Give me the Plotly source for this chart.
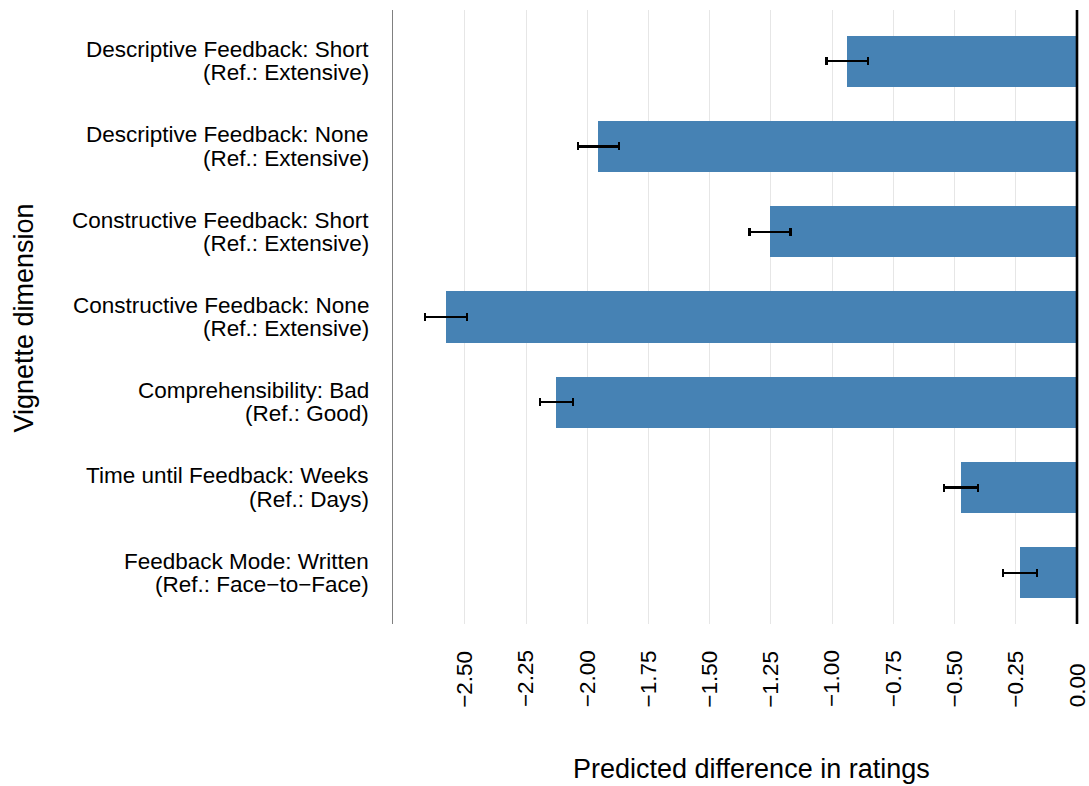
import plotly.graph_objects as go

# Vignette dimensions (contrast level) and their reference categories
dimensions = [
    "Descriptive Feedback: Short",
    "Descriptive Feedback: None",
    "Constructive Feedback: Short",
    "Constructive Feedback: None",
    "Comprehensibility: Bad",
    "Time until Feedback: Weeks",
    "Feedback Mode: Written",
]
references = [
    "(Ref.: Extensive)",
    "(Ref.: Extensive)",
    "(Ref.: Extensive)",
    "(Ref.: Extensive)",
    "(Ref.: Good)",
    "(Ref.: Days)",
    "(Ref.: Face\u2212to\u2212Face)",
]

# Predicted differences in ratings and their standard errors
estimates = [-0.938, -1.955, -1.254, -2.577, -2.127, -0.474, -0.234]
std_errors = [0.085, 0.083, 0.084, 0.085, 0.068, 0.069, 0.069]

# Value axis ticks
tick_values = [-2.50, -2.25, -2.00, -1.75, -1.50, -1.25, -1.00, -0.75, -0.50, -0.25, 0.00]
tick_labels = ["\u22122.50", "\u22122.25", "\u22122.00", "\u22121.75", "\u22121.50", "\u22121.25",
               "\u22121.00", "\u22120.75", "\u22120.50", "\u22120.25", "0.00"]

FONT = "Liberation Sans, Arial, Helvetica, sans-serif"
BAR_COLOR = "#4682B4"

fig = go.Figure()
fig.add_trace(go.Bar(
    x=estimates,
    y=dimensions,
    orientation="h",
    width=0.6,
    marker=dict(color=BAR_COLOR, line=dict(width=0)),
    error_x=dict(type="data", array=std_errors, symmetric=True,
                 color="black", thickness=2.2, width=4),
    showlegend=False,
))

annotations = []
# Two-line category labels on the left
for dim, ref in zip(dimensions, references):
    for text, shift in ((dim, 11.7), (ref, -11.7)):
        annotations.append(dict(
            x=0, xref="paper", xanchor="right", xshift=-22,
            y=dim, yref="y", yanchor="middle", yshift=shift,
            text=text, showarrow=False, align="right",
            font=dict(family=FONT, size=22.5, color="black"),
        ))

# Rotated value-axis labels, aligned at their start
for v, lab in zip(tick_values, tick_labels):
    annotations.append(dict(
        x=v, xref="x", xanchor="center",
        y=-0.139, yref="paper", yanchor="bottom",
        text=lab, textangle=-90, showarrow=False,
        font=dict(family=FONT, size=22.5, color="black"),
    ))

# Axis titles
annotations.append(dict(
    x=0.5144, xref="paper", xanchor="center",
    y=-0.236, yref="paper", yanchor="middle",
    text="Predicted difference in ratings", showarrow=False,
    font=dict(family=FONT, size=27, color="black"),
))
annotations.append(dict(
    x=-0.53, xref="paper", xanchor="center",
    y=0.4976, yref="paper", yanchor="middle",
    text="Vignette dimension", textangle=-90, showarrow=False,
    font=dict(family=FONT, size=27, color="black"),
))

fig.update_layout(
    width=1089,
    height=786,
    margin=dict(l=393, r=0, t=10, b=162),
    paper_bgcolor="white",
    plot_bgcolor="white",
    font=dict(family=FONT, color="black"),
    annotations=annotations,
    shapes=[dict(
        type="line", xref="x", yref="paper",
        x0=0, x1=0, y0=0, y1=1,
        line=dict(color="black", width=2.6),
        layer="above",
    )],
    bargap=0,
)

fig.update_xaxes(
    range=[-2.794, 0.049],
    tickvals=tick_values,
    showticklabels=False,
    ticks="",
    showgrid=True,
    gridcolor="#e6e6e6",
    gridwidth=1,
    zeroline=False,
    showline=False,
    fixedrange=True,
)
fig.update_yaxes(
    type="category",
    categoryorder="array",
    categoryarray=dimensions,
    range=[6.6, -0.6],
    showticklabels=False,
    ticks="",
    showgrid=False,
    zeroline=False,
    showline=True,
    linecolor="#808080",
    linewidth=1.3,
    fixedrange=True,
)

fig.write_html("out.html", config={"displayModeBar": False})
